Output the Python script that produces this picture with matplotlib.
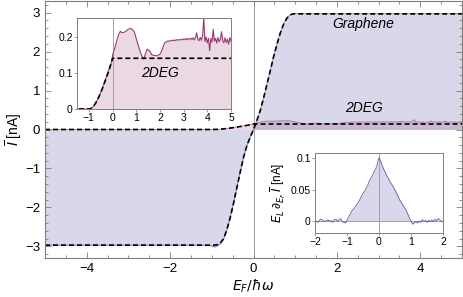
import numpy as np
import matplotlib
matplotlib.use("Agg")
import matplotlib.pyplot as plt
from matplotlib.ticker import MultipleLocator

plt.rcParams["font.family"] = ["Liberation Sans", "DejaVu Sans"]
plt.rcParams["mathtext.fontset"] = "dejavusans"
plt.rcParams["axes.unicode_minus"] = True

# ── 데이터 ────────────────────────────────────────────────────────────────
# graphene (측정/시뮬레이션 곡선)
graphene_E = [-5.0, -1.2, -1.0, -0.95, -0.88, -0.8, -0.72, -0.64, -0.56, -0.48,
              -0.40, -0.32, -0.24, -0.16, -0.08, 0.0, 0.08, 0.16, 0.24, 0.32,
              0.40, 0.48, 0.56, 0.64, 0.72, 0.8, 0.88, 0.95, 1.0, 1.2, 5.0]
graphene_I = [-2.97, -2.97, -2.99, -3.02, -3.0, -2.94, -2.82, -2.58, -2.27, -1.9,
              -1.5, -1.1, -0.72, -0.42, -0.2, 0.0, 0.23, 0.48, 0.80, 1.15,
              1.50, 1.86, 2.18, 2.47, 2.70, 2.86, 2.95, 2.98, 2.98, 2.97, 2.97]
# graphene 이론값 (점선)
graphene_ideal = [-2.97, -2.97, -2.97, -2.97, -2.96, -2.92, -2.81, -2.58, -2.27, -1.9,
                  -1.5, -1.1, -0.72, -0.42, -0.2, 0.0, 0.23, 0.48, 0.80, 1.15,
                  1.50, 1.86, 2.18, 2.47, 2.70, 2.86, 2.94, 2.97, 2.97, 2.97, 2.97]

# 2DEG 이론값 (점선)
deg_ideal_E = [-5.0, -1.0, -0.9, -0.8, -0.7, -0.6, -0.5, -0.4, -0.3, -0.2, -0.1, 0.0, 5.0]
deg_ideal_I = [0.0, 0.0, 0.002, 0.008, 0.018, 0.031, 0.045, 0.062, 0.080, 0.098, 0.118, 0.141, 0.141]

# 2DEG 데이터
deg_E = [-5.0, -1.5, -1.0, -0.9, -0.8, -0.7, -0.6, -0.5, -0.4, -0.3, -0.2, -0.1, -0.02,
         0.0, 0.05, 0.12, 0.2, 0.28, 0.33, 0.4, 0.48, 0.56, 0.65, 0.76, 0.84, 0.92,
         1.0, 1.08, 1.18, 1.26, 1.32, 1.38, 1.46, 1.52, 1.58, 1.65, 1.75, 1.88, 2.0,
         2.08, 2.15, 2.2,
         2.25, 2.30, 2.35, 2.40, 2.45, 2.50, 2.55, 2.60, 2.65, 2.70, 2.75, 2.80,
         2.85, 2.90, 2.95, 3.00, 3.05, 3.10, 3.15, 3.20, 3.25, 3.30, 3.35, 3.40,
         3.45, 3.50, 3.55, 3.60, 3.65, 3.70, 3.75, 3.80, 3.85, 3.90, 3.95, 4.00,
         4.05, 4.10, 4.15, 4.20, 4.25, 4.30, 4.35, 4.40, 4.45, 4.50, 4.55, 4.60,
         4.65, 4.70, 4.75, 4.80, 4.85, 4.90, 4.95, 5.00]
deg_I = [0.0, 0.0, 0.0, 0.002, 0.007, 0.017, 0.030, 0.046, 0.063, 0.082, 0.101, 0.12, 0.135,
         0.15, 0.16, 0.175, 0.195, 0.21, 0.216, 0.212, 0.213, 0.216, 0.221, 0.224, 0.221, 0.214,
         0.196, 0.178, 0.157, 0.145, 0.139, 0.152, 0.166, 0.163, 0.161, 0.151, 0.149, 0.148, 0.152,
         0.162, 0.176, 0.184,
         0.186, 0.189, 0.188, 0.190, 0.189, 0.191, 0.190, 0.192, 0.190, 0.193, 0.191, 0.193,
         0.192, 0.194, 0.192, 0.195, 0.193, 0.196, 0.192, 0.196, 0.194, 0.197, 0.193, 0.198,
         0.192, 0.199, 0.212, 0.193, 0.190, 0.199, 0.191, 0.204, 0.252, 0.188, 0.200, 0.184,
         0.197, 0.162, 0.196, 0.186, 0.222, 0.189, 0.196, 0.183, 0.199, 0.187, 0.194, 0.215,
         0.190, 0.184, 0.198, 0.185, 0.194, 0.180, 0.199, 0.188]

# 미분 전류 (오른쪽 아래 inset)
dI_E = [-2.0, -1.9, -1.85, -1.8, -1.7, -1.6, -1.55, -1.5, -1.45, -1.4, -1.35, -1.3, -1.25,
        -1.2, -1.15, -1.1, -1.05, -1.0, -0.95, -0.9, -0.85, -0.8, -0.75, -0.7, -0.65, -0.6,
        -0.55, -0.5, -0.45, -0.4, -0.35, -0.3, -0.25, -0.2, -0.15, -0.1, -0.05, -0.02, 0.0,
        0.03, 0.06, 0.1, 0.15, 0.2, 0.25, 0.3, 0.35, 0.4, 0.45, 0.5, 0.55, 0.6, 0.65, 0.7,
        0.75, 0.8, 0.85, 0.9, 0.95, 1.0, 1.05, 1.1, 1.15, 1.2, 1.25, 1.3, 1.35, 1.4, 1.45,
        1.5, 1.55, 1.6, 1.65, 1.7, 1.75, 1.8, 1.85, 1.9, 1.95, 2.0]
dI_val = [0.001, -0.002, 0.002, 0.003, -0.001, 0.002, 0.0, 0.001, -0.002, 0.002, 0.003, 0.0, 0.002,
          0.004, -0.001, -0.002, -0.003, 0.001, 0.006, 0.011, 0.016, 0.019, 0.022, 0.026, 0.029, 0.034,
          0.039, 0.044, 0.047, 0.052, 0.057, 0.064, 0.068, 0.073, 0.079, 0.083, 0.091, 0.099, 0.1,
          0.098, 0.094, 0.088, 0.082, 0.077, 0.071, 0.067, 0.062, 0.058, 0.054, 0.049, 0.044, 0.039, 0.033, 0.030,
          0.025, 0.021, 0.017, 0.011, 0.005, -0.001, -0.005, -0.003, -0.001, -0.003, 0.0, -0.002, 0.002, 0.0, 0.001,
          -0.002, 0.001, -0.001, 0.002, -0.001, 0.003, 0.0, 0.004, 0.002, -0.001, 0.0]

# ── 스타일 ────────────────────────────────────────────────────────────────
BLUE = (0.24, 0.24, 0.6)
PINK = (0.6, 0.24, 0.443)
FRAME = "#7f7f7f"
AXLINE = "#a0a0a0"

fig = plt.figure(figsize=(4.63, 2.97), dpi=100)
ax = fig.add_axes([45 / 463, 1 - 258 / 297, 417 / 463, 257 / 297])

ax.fill_between(graphene_E, graphene_I, 0, color=BLUE, alpha=0.2, lw=0)
ax.fill_between(deg_E, deg_I, 0, color=PINK, alpha=0.2, lw=0)
ax.axvline(0, color=AXLINE, lw=0.7, zorder=1)
ax.plot(graphene_E, graphene_I, color=BLUE, lw=0.6, alpha=0.7)
ax.plot(deg_E, deg_I, color=PINK, lw=0.6, alpha=0.7)
ax.plot(graphene_E, graphene_ideal, color="black", lw=1.2, dashes=(3.0, 1.8))
ax.plot(deg_ideal_E, deg_ideal_I, color="black", lw=1.2, dashes=(3.0, 1.8))

ax.set_xlim(-5, 5)
ax.set_ylim(-3.3, 3.3)
ax.xaxis.set_major_locator(MultipleLocator(2))
ax.xaxis.set_minor_locator(MultipleLocator(0.5))
ax.yaxis.set_major_locator(MultipleLocator(1))
ax.yaxis.set_minor_locator(MultipleLocator(0.2))
ax.tick_params(which="both", direction="in", top=True, right=True, labelsize=9.5,
               color=FRAME, width=0.6)
ax.tick_params(which="major", length=4)
ax.tick_params(which="minor", length=2)
for s in ax.spines.values():
    s.set_color(FRAME)
    s.set_linewidth(0.8)
ax.set_xlabel(r"$E_F/\hbar\omega$", fontsize=10, labelpad=2)
ax.set_ylabel(r"$\overline{I}$ [nA]", fontsize=10, labelpad=1)

ax.text(2.64, 2.72, "Graphene", style="italic", fontsize=10, ha="center", va="center")
ax.text(2.64, 0.54, "2DEG", style="italic", fontsize=10, ha="center", va="center")

# ── inset 1: 2DEG 확대 ────────────────────────────────────────────────────
ax1 = fig.add_axes([77 / 463, 1 - 109 / 297, 154 / 463, 91 / 297])
ax1.fill_between(deg_E, deg_I, 0, color=PINK, alpha=0.2, lw=0)
ax1.axvline(0, color=AXLINE, lw=0.7, zorder=1)
ax1.plot(deg_E, deg_I, color=PINK, lw=0.8)
ax1.plot(deg_ideal_E, deg_ideal_I, color="black", lw=1.2, dashes=(3.0, 1.8))
ax1.set_xlim(-1.5, 5)
ax1.set_ylim(0, 0.253)
ax1.set_xticks([-1, 0, 1, 2, 3, 4, 5])
ax1.set_yticks([0, 0.1, 0.2])
ax1.set_yticklabels(["0", "0.1", "0.2"])
ax1.tick_params(direction="out", length=2, width=0.5, color=FRAME, labelsize=7.5, pad=1)
for s in ax1.spines.values():
    s.set_color(FRAME)
    s.set_linewidth(0.7)
ax1.text(2.0, 0.1, "2DEG", style="italic", fontsize=10, ha="center", va="center")

# ── inset 2: 미분 전류 ────────────────────────────────────────────────────
ax2 = fig.add_axes([315 / 463, 1 - 233 / 297, 128 / 463, 80 / 297])
ax2.fill_between(dI_E, dI_val, 0, color=BLUE, alpha=0.2, lw=0)
ax2.axvline(0, color=AXLINE, lw=0.7, zorder=1)
ax2.axhline(0, color=AXLINE, lw=0.7, zorder=1)
ax2.plot(dI_E, dI_val, color=BLUE, lw=0.6, alpha=0.8)
ax2.set_xlim(-2, 2)
ax2.set_ylim(-0.019, 0.108)
ax2.set_xticks([-2, -1, 0, 1, 2])
ax2.set_yticks([0, 0.05, 0.1])
ax2.set_yticklabels(["0", "0.05", "0.1"])
ax2.tick_params(direction="out", length=2, width=0.5, color=FRAME, labelsize=7.5, pad=1)
for s in ax2.spines.values():
    s.set_color(FRAME)
    s.set_linewidth(0.7)
ax2.set_ylabel(r"$E_L\,\partial_{E_F}\,\overline{I}$ [nA]", fontsize=8.5, labelpad=2)

fig.savefig("out.png", dpi=100)
